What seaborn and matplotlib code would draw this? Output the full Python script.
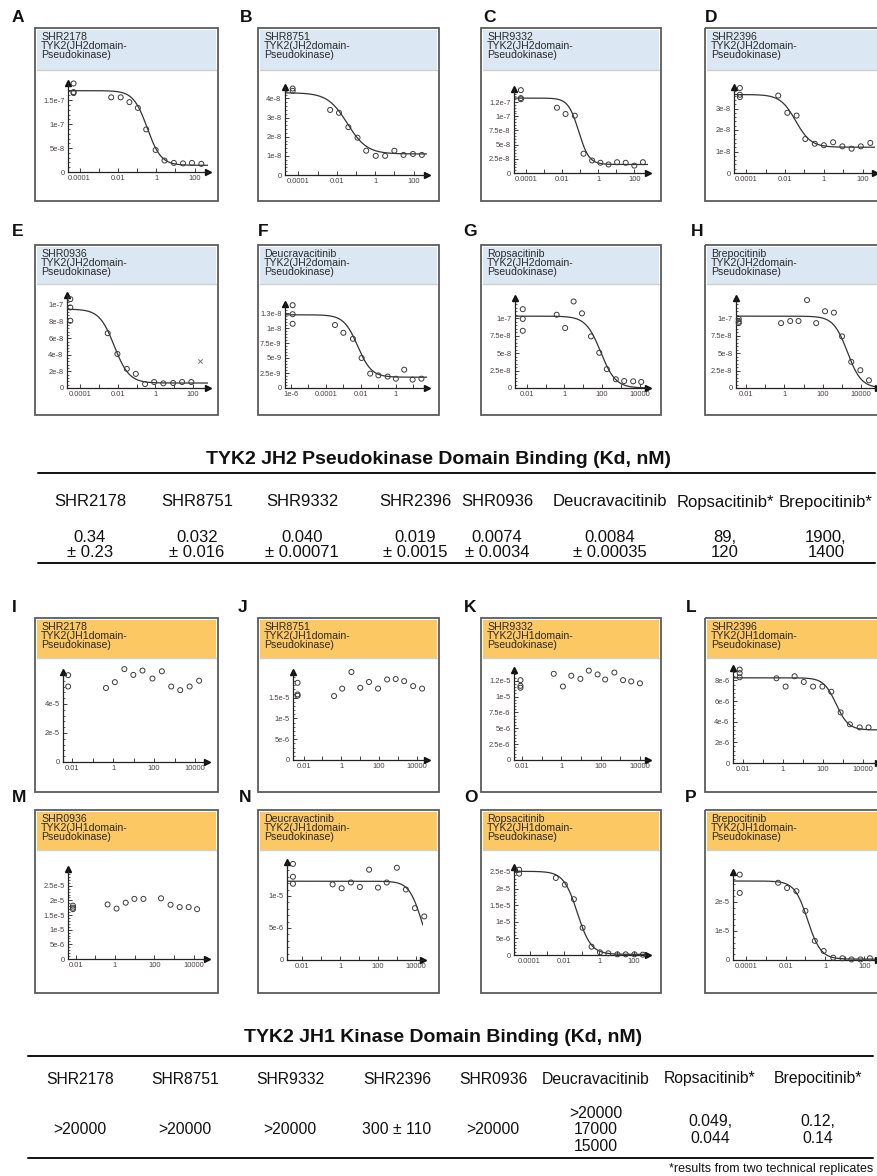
import numpy as np
import pandas as pd
import matplotlib
matplotlib.use("Agg")
import matplotlib.pyplot as plt
import seaborn as sns
from matplotlib.patches import Rectangle
from matplotlib.ticker import LogLocator, NullFormatter, AutoMinorLocator

sns.set_theme(style="white")
plt.rcParams['font.family'] = ['Liberation Sans', 'DejaVu Sans']

W, H = 878, 1176

# ---- data (concentration in uM, signal) ----
# control wells are plotted at the left edge of each axis
A_ctrl_x, A_ctrl = 4.9e-5, [1.85e-7, 1.67e-7, 1.65e-7]
A_conc = [0.0045, 0.014, 0.04, 0.11, 0.3, 0.93, 2.7, 8.3, 25, 73, 225]
A_resp = [1.56e-7, 1.56e-7, 1.46e-7, 1.34e-7, 8.9e-8, 4.6e-8, 2.4e-8, 1.9e-8, 1.8e-8, 1.9e-8, 1.7e-8]
A_fit = [1.7e-7, 1.4e-8, 0.34, 1.2]  # top, bottom, ec50, hill

B_ctrl_x, B_ctrl = 5e-5, [4.52e-8, 4.4e-8]
B_conc = [0.0045, 0.013, 0.04, 0.12, 0.34, 1.07, 3.3, 10, 30, 93, 270]
B_resp = [3.4e-8, 3.25e-8, 2.5e-8, 1.95e-8, 1.27e-8, 1.0e-8, 1.0e-8, 1.27e-8, 1.05e-8, 1.1e-8, 1.05e-8]
B_fit = [4.3e-8, 1.1e-8, 0.035, 0.85]

C_ctrl_x, C_ctrl = 4.9e-5, [1.46e-7, 1.32e-7, 1.3e-7]
C_conc = [0.005, 0.015, 0.049, 0.15, 0.45, 1.3, 3.7, 11, 33, 100, 300]
C_resp = [1.15e-7, 1.04e-7, 1.01e-7, 3.4e-8, 2.2e-8, 1.8e-8, 1.5e-8, 1.9e-8, 1.8e-8, 1.3e-8, 1.9e-8]
C_fit = [1.32e-7, 1.5e-8, 0.08, 1.5]

D_ctrl_x, D_ctrl = 4.6e-5, [3.95e-8, 3.64e-8, 3.53e-8]
D_conc = [0.0044, 0.013, 0.039, 0.11, 0.34, 1.0, 3.0, 9.0, 27, 81, 250]
D_resp = [3.6e-8, 2.8e-8, 2.67e-8, 1.58e-8, 1.36e-8, 1.29e-8, 1.43e-8, 1.24e-8, 1.13e-8, 1.24e-8, 1.4e-8]
D_fit = [3.65e-8, 1.2e-8, 0.035, 1.1]

E_ctrl_x, E_ctrl = 3e-5, [1.07e-7, 9.7e-8, 8.1e-8]
E_conc = [0.0029, 0.0095, 0.03, 0.09, 0.28, 0.85, 2.6, 8.7, 26, 80]
E_resp = [6.6e-8, 4.1e-8, 2.3e-8, 1.7e-8, 4.8e-9, 7.2e-9, 5.6e-9, 6e-9, 7.2e-9, 7.2e-9]
E_excl_x, E_excl_y = [224], [3.2e-8]
E_fit = [9.5e-8, 6e-9, 0.0065, 1.1]

F_ctrl_x, F_ctrl = 1.25e-6, [1.38e-8, 1.23e-8, 1.07e-8]
F_conc = [0.00033, 0.001, 0.0035, 0.011, 0.034, 0.1, 0.34, 1.0, 3.0, 9.1, 29]
F_resp = [1.05e-8, 9.2e-9, 8.2e-9, 5e-9, 2.4e-9, 2.1e-9, 1.9e-9, 1.55e-9, 3.05e-9, 1.4e-9, 1.55e-9]
F_fit = [1.22e-8, 1.8e-9, 0.0065, 1.1]

G_ctrl_x, G_ctrl = 0.0062, [1.13e-7, 9.9e-8, 8.2e-8]
G_conc = [0.39, 1.1, 3.1, 8.6, 26, 71, 180, 540, 1500, 4500, 12000]
G_resp = [1.05e-7, 8.6e-8, 1.24e-7, 1.07e-7, 7.4e-8, 5.05e-8, 2.7e-8, 1.25e-8, 1.0e-8, 9.6e-9, 8.7e-9]
G_fit = [1.03e-7, 0.0, 85, 1.1]

H_ctrl_x, H_ctrl = 0.0042, [9.9e-8, 9.5e-8, 9.3e-8]
H_conc = [0.67, 2.0, 5.4, 15, 45, 130, 375, 1000, 3000, 8900, 25000]
H_resp = [9.3e-8, 9.6e-8, 9.6e-8, 1.26e-7, 9.3e-8, 1.1e-7, 1.08e-7, 7.4e-8, 3.75e-8, 2.55e-8, 1.1e-8]
H_fit = [1.03e-7, 0.0, 1900, 1.2]

I_ctrl_x, I_ctrl = 0.0062, [5.98e-5, 5.2e-5]
I_conc = [0.44, 1.2, 3.5, 9.6, 27, 83, 240, 690, 1900, 5500, 16000]
I_resp = [5.1e-5, 5.5e-5, 6.4e-5, 6.0e-5, 6.3e-5, 5.75e-5, 6.25e-5, 5.2e-5, 4.95e-5, 5.2e-5, 5.6e-5]

J_ctrl_x, J_ctrl = 0.0048, [1.86e-5, 1.58e-5, 1.55e-5]
J_conc = [0.41, 1.1, 3.4, 10, 29, 87, 263, 750, 2100, 6300, 18600]
J_resp = [1.54e-5, 1.72e-5, 2.12e-5, 1.74e-5, 1.88e-5, 1.72e-5, 1.94e-5, 1.95e-5, 1.9e-5, 1.78e-5, 1.72e-5]

K_ctrl_x, K_ctrl = 0.0083, [1.26e-5, 1.17e-5, 1.14e-5]
K_conc = [0.41, 1.2, 3.2, 9.3, 25, 70, 170, 500, 1380, 3600, 10000]
K_resp = [1.36e-5, 1.16e-5, 1.33e-5, 1.28e-5, 1.41e-5, 1.35e-5, 1.27e-5, 1.38e-5, 1.26e-5, 1.24e-5, 1.21e-5]

L_ctrl_x, L_ctrl = 0.0068, [9.05e-6, 8.7e-6, 8.3e-6]
L_conc = [0.47, 1.35, 3.8, 11, 32, 93, 260, 760, 2200, 6800, 19000]
L_resp = [8.2e-6, 7.4e-6, 8.4e-6, 7.85e-6, 7.4e-6, 7.4e-6, 6.9e-6, 4.9e-6, 3.75e-6, 3.45e-6, 3.45e-6]
L_fit = [8.25e-6, 3.2e-6, 450, 1.4]

M_ctrl_x, M_ctrl = 0.0073, [1.82e-5, 1.75e-5, 1.7e-5]
M_conc = [0.42, 1.2, 3.5, 9.7, 28, 220, 670, 1950, 5600, 15000]
M_resp = [1.86e-5, 1.72e-5, 1.92e-5, 2.05e-5, 2.05e-5, 2.07e-5, 1.85e-5, 1.77e-5, 1.77e-5, 1.7e-5]

N_ctrl_x, N_ctrl = 0.0032, [1.5e-5, 1.3e-5, 1.19e-5]
N_conc = [0.4, 1.2, 3.7, 11, 34, 100, 290, 1000, 3000, 9000, 28000]
N_resp = [1.18e-5, 1.12e-5, 1.21e-5, 1.14e-5, 1.41e-5, 1.13e-5, 1.21e-5, 1.44e-5, 1.1e-5, 8.1e-6, 6.8e-6]
N_fit = [1.23e-5, 0.0, 20000, 1.3]

O_ctrl_x, O_ctrl = 2.5e-5, [2.57e-5, 2.45e-5]
O_conc = [0.0032, 0.0105, 0.035, 0.11, 0.36, 1.1, 3.3, 11, 33, 105, 316]
O_resp = [2.32e-5, 2.12e-5, 1.68e-5, 8.2e-6, 2.5e-6, 8e-7, 5e-7, 2e-7, 2e-7, 2e-7, 1e-7]
O_fit = [2.52e-5, 2e-7, 0.055, 1.1]

P_ctrl_x, P_ctrl = 4.6e-5, [2.94e-5, 2.31e-5]
P_conc = [0.0041, 0.0117, 0.035, 0.1, 0.3, 0.85, 2.6, 7.6, 22, 63, 190]
P_resp = [2.66e-5, 2.48e-5, 2.37e-5, 1.69e-5, 6.6e-6, 3.1e-6, 8e-7, 6e-7, 2e-7, 2e-7, 6e-7]
P_fit = [2.72e-5, 3e-7, 0.13, 1.3]

# compound names in the panel headers
jh2_names = ["SHR2178", "SHR8751", "SHR9332", "SHR2396",
             "SHR0936", "Deucravacitinib", "Ropsacitinib", "Brepocitinib"]
jh1_names = ["SHR2178", "SHR8751", "SHR9332", "SHR2396",
             "SHR0936", "Deucravactinib", "Ropsacitinib", "Brepocitinib"]

# tables
tbl_compounds = ["SHR2178", "SHR8751", "SHR9332", "SHR2396", "SHR0936",
                 "Deucravacitinib", "Ropsacitinib*", "Brepocitinib*"]
jh2_kd = ["0.34\n\u00b1 0.23", "0.032\n\u00b1 0.016", "0.040\n\u00b1 0.00071", "0.019\n\u00b1 0.0015",
          "0.0074\n\u00b1 0.0034", "0.0084\n\u00b1 0.00035", "89,\n120", "1900,\n1400"]
jh1_kd = [">20000", ">20000", ">20000", "300 \u00b1 110", ">20000",
          ">20000\n17000\n15000", "0.049,\n0.044", "0.12,\n0.14"]

# tick labels
ticks_x_a = ["0.0001", "0.01", "1", "100"]
ticks_x_f = ["1e-6", "0.0001", "0.01", "1"]
ticks_x_g = ["0.01", "1", "100", "10000"]

# ---------------- layout ----------------
fig = plt.figure(figsize=(W / 100, H / 100), dpi=100)
bg = fig.add_axes([0, 0, 1, 1])
bg.set_xlim(0, W)
bg.set_ylim(H, 0)
bg.axis('off')

BLUE = '#dbe8f3'
ORANGE = '#fbc864'

cols = [(35, 218), (258, 439), (481, 661), (705, 892)]
rows = [(28, 201, 70), (245, 415, 284), (618, 792, 658), (810, 993, 850)]


def px_axes(l, r, t, b):
    return fig.add_axes([l / W, 1 - b / H, (r - l) / W, (b - t) / H])


def draw_panel(letter, lxy, col, row, name, domain, color, inner, xlog, ytop,
               yticks, ylabels, xlabels, ctrl_x, ctrl, conc, resp, fit=None, excl=None):
    x0, x1 = cols[col]
    y0, y1, hb = rows[row]
    bg.add_patch(Rectangle((x0, y0), x1 - x0, y1 - y0, fill=False, ec='#5c5c5c', lw=1.3, zorder=3))
    bg.add_patch(Rectangle((x0 + 2, y0 + 2), x1 - x0 - 4, hb - y0 - 2, fc=color, ec='none'))
    bg.plot([x0 + 2, x1 - 2], [hb, hb], color='#cfcfcf', lw=1.0)
    bg.text(x0 + 6, y0 + 4, f"{name}\nTYK2({domain}domain-\nPseudokinase)", ha='left', va='top',
            fontsize=7.6, linespacing=0.88, color='#2a2a2a')
    bg.text(lxy[0], lxy[1], letter, ha='left', va='center', fontsize=12.5, fontweight='bold', color='#111')

    ax = px_axes(*inner)
    ax.patch.set_alpha(0)
    df = pd.DataFrame({'conc': [ctrl_x] * len(ctrl) + list(conc),
                       'resp': list(ctrl) + list(resp)})
    ax.set_xscale('log')
    sns.scatterplot(data=df, x='conc', y='resp', ax=ax, marker='o', s=13,
                    facecolors='none', edgecolor='#3a3a3a', linewidth=0.7,
                    clip_on=False, legend=False, zorder=4)
    if excl is not None:
        ax.scatter(excl[0], excl[1], marker='x', s=10, color='#777', linewidth=0.7)
    if fit is not None:
        top, bot, ec50, hill = fit
        xs = np.logspace(xlog[0], xlog[1], 300)
        ys = bot + (top - bot) / (1 + (xs / ec50) ** hill)
        sns.lineplot(x=xs, y=ys, ax=ax, color='#333', lw=0.9, estimator=None, sort=False)

    ax.set_xlim(10 ** xlog[0], 10 ** xlog[1])
    ax.set_ylim(0, ytop)
    for s in ['top', 'right']:
        ax.spines[s].set_visible(False)
    for s in ['left', 'bottom']:
        ax.spines[s].set_color('#222')
        ax.spines[s].set_linewidth(0.9)
    ax.plot(0, 1, marker='^', ms=4.5, color='#111', transform=ax.transAxes, clip_on=False)
    ax.plot(1, 0, marker='>', ms=4.5, color='#111', transform=ax.transAxes, clip_on=False)

    # decades get ticks, only every other decade is labelled
    dec = [10.0 ** k for k in range(int(np.ceil(xlog[0])), int(np.floor(xlog[1])) + 1)]
    labvals = {round(np.log10(float(v))): v for v in xlabels}
    ax.set_xticks(dec)
    ax.set_xticklabels([labvals.get(round(np.log10(d)), '') for d in dec])
    ax.xaxis.set_minor_locator(LogLocator(base=10, subs=np.arange(2, 10)))
    ax.xaxis.set_minor_formatter(NullFormatter())
    ax.set_yticks(yticks)
    ax.set_yticklabels(ylabels)
    ax.yaxis.set_minor_locator(AutoMinorLocator(5))
    ax.tick_params(axis='both', which='major', direction='in', length=3, width=0.6, color='#222',
                   labelsize=5.4, labelcolor='#4a4040', pad=2.5, bottom=True, left=True)
    ax.tick_params(axis='both', which='minor', direction='in', length=1.5, width=0.5, color='#222',
                   bottom=True, left=True)
    ax.set_xlabel('')
    ax.set_ylabel('')
    ax.grid(False)
    return ax


JH2, JH1 = 'JH2', 'JH1'

draw_panel('A', (12, 17), 0, 0, jh2_names[0], JH2, BLUE, (68, 208, 83, 172), (-4.6, 2.7), 1.86e-7,
           [0, 5e-8, 1e-7, 1.5e-7], ['0', '5e-8', '1e-7', '1.5e-7'], ticks_x_a,
           A_ctrl_x, A_ctrl, A_conc, A_resp, A_fit)
draw_panel('B', (240, 17), 1, 0, jh2_names[1], JH2, BLUE, (285, 427, 87, 175), (-4.7, 2.7), 4.6e-8,
           [0, 1e-8, 2e-8, 3e-8, 4e-8], ['0', '1e-8', '2e-8', '3e-8', '4e-8'], ticks_x_a,
           B_ctrl_x, B_ctrl, B_conc, B_resp, B_fit)
draw_panel('C', (483, 17), 2, 0, jh2_names[2], JH2, BLUE, (514, 648, 89, 173), (-4.69, 2.76), 1.48e-7,
           [0, 2.5e-8, 5e-8, 7.5e-8, 1e-7, 1.25e-7], ['0', '2.5e-8', '5e-8', '7.5e-8', '1e-7', '1.2e-7'], ticks_x_a,
           C_ctrl_x, C_ctrl, C_conc, C_resp, C_fit)
draw_panel('D', (705, 17), 3, 0, jh2_names[3], JH2, BLUE, (734, 875, 87, 173), (-4.64, 2.64), 4.0e-8,
           [0, 1e-8, 2e-8, 3e-8], ['0', '1e-8', '2e-8', '3e-8'], ticks_x_a,
           D_ctrl_x, D_ctrl, D_conc, D_resp, D_fit)

draw_panel('E', (12, 231), 0, 1, jh2_names[4], JH2, BLUE, (67, 208, 295, 388), (-4.7, 2.79), 1.12e-7,
           [0, 2e-8, 4e-8, 6e-8, 8e-8, 1e-7], ['0', '2e-8', '4e-8', '6e-8', '8e-8', '1e-7'], ticks_x_a,
           E_ctrl_x, E_ctrl, E_conc, E_resp, E_fit, excl=(E_excl_x, E_excl_y))
draw_panel('F', (258, 231), 1, 1, jh2_names[5], JH2, BLUE, (285, 427, 304, 388), (-6.34, 1.78), 1.4e-8,
           [0, 2.5e-9, 5e-9, 7.5e-9, 1e-8, 1.25e-8], ['0', '2.5e-9', '5e-9', '7.5e-9', '1e-8', '1.3e-8'], ticks_x_f,
           F_ctrl_x, F_ctrl, F_conc, F_resp, F_fit)
draw_panel('G', (463, 231), 2, 1, jh2_names[6], JH2, BLUE, (515, 648, 298, 388), (-2.62, 4.44), 1.29e-7,
           [0, 2.5e-8, 5e-8, 7.5e-8, 1e-7], ['0', '2.5e-8', '5e-8', '7.5e-8', '1e-7'], ticks_x_g,
           G_ctrl_x, G_ctrl, G_conc, G_resp, G_fit)
draw_panel('H', (691, 231), 3, 1, jh2_names[7], JH2, BLUE, (736, 878, 298, 388), (-2.52, 4.87), 1.29e-7,
           [0, 2.5e-8, 5e-8, 7.5e-8, 1e-7], ['0', '2.5e-8', '5e-8', '7.5e-8', '1e-7'], ticks_x_g,
           H_ctrl_x, H_ctrl, H_conc, H_resp, H_fit)

draw_panel('I', (12, 607), 0, 2, jh1_names[0], JH1, ORANGE, (63, 207, 672, 762), (-2.46, 4.59), 6.2e-5,
           [0, 2e-5, 4e-5], ['0', '2e-5', '4e-5'], ticks_x_g,
           I_ctrl_x, I_ctrl, I_conc, I_resp)
draw_panel('J', (238, 607), 1, 2, jh1_names[1], JH1, ORANGE, (293, 427, 672, 760), (-2.56, 4.53), 2.12e-5,
           [0, 5e-6, 1e-5, 1.5e-5], ['0', '5e-6', '1e-5', '1.5e-5'], ticks_x_g,
           J_ctrl_x, J_ctrl, J_conc, J_resp)
draw_panel('K', (464, 607), 2, 2, jh1_names[2], JH1, ORANGE, (514, 648, 670, 760), (-2.41, 4.41), 1.42e-5,
           [0, 2.5e-6, 5e-6, 7.5e-6, 1e-5, 1.25e-5], ['0', '2.5e-6', '5e-6', '7.5e-6', '1e-5', '1.2e-5'], ticks_x_g,
           K_ctrl_x, K_ctrl, K_conc, K_resp)
draw_panel('L', (686, 607), 3, 2, jh1_names[3], JH1, ORANGE, (733, 878, 668, 763), (-2.5, 4.75), 9.2e-6,
           [0, 2e-6, 4e-6, 6e-6, 8e-6], ['0', '2e-6', '4e-6', '6e-6', '8e-6'], ticks_x_g,
           L_ctrl_x, L_ctrl, L_conc, L_resp, L_fit)

draw_panel('M', (12, 798), 0, 3, jh1_names[4], JH1, ORANGE, (68, 207, 869, 959), (-2.39, 4.68), 3.07e-5,
           [0, 5e-6, 1e-5, 1.5e-5, 2e-5, 2.5e-5], ['0', '5e-6', '1e-5', '1.5e-5', '2e-5', '2.5e-5'], ticks_x_g,
           M_ctrl_x, M_ctrl, M_conc, M_resp)
draw_panel('N', (239, 798), 1, 3, jh1_names[5], JH1, ORANGE, (287, 423, 862, 960), (-2.81, 4.38), 1.53e-5,
           [0, 5e-6, 1e-5], ['0', '5e-6', '1e-5'], ticks_x_g,
           N_ctrl_x, N_ctrl, N_conc, N_resp, N_fit)
draw_panel('O', (464, 798), 2, 3, jh1_names[6], JH1, ORANGE, (514, 648, 867, 955), (-4.9, 2.8), 2.65e-5,
           [0, 5e-6, 1e-5, 1.5e-5, 2e-5, 2.5e-5], ['0', '5e-6', '1e-5', '1.5e-5', '2e-5', '2.5e-5'], ticks_x_a,
           O_ctrl_x, O_ctrl, O_conc, O_resp, O_fit)
draw_panel('P', (685, 798), 3, 3, jh1_names[7], JH1, ORANGE, (733, 878, 872, 960), (-4.68, 2.69), 3.03e-5,
           [0, 1e-5, 2e-5], ['0', '1e-5', '2e-5'], ticks_x_a,
           P_ctrl_x, P_ctrl, P_conc, P_resp, P_fit)

# ---------------- tables ----------------
t1_cols = [90, 197, 302, 415, 497, 610, 725, 826]
bg.text(439, 459, "TYK2 JH2 Pseudokinase Domain Binding (Kd, nM)", ha='center', va='center',
        fontsize=14, fontweight='bold', color='#111')
bg.plot([38, 875], [473, 473], color='#111', lw=1.4)
bg.plot([38, 875], [563, 563], color='#111', lw=1.4)
for cx, comp, val in zip(t1_cols, tbl_compounds, jh2_kd):
    bg.text(cx, 502, comp, ha='center', va='center', fontsize=12, color='#111')
    bg.text(cx, 545, val, ha='center', va='center', fontsize=12, color='#111', linespacing=1.0)

t2_cols = [80, 185, 290, 397, 493, 596, 710, 818]
bg.text(443, 1037, "TYK2 JH1 Kinase Domain Binding (Kd, nM)", ha='center', va='center',
        fontsize=14, fontweight='bold', color='#111')
bg.plot([28, 873], [1056, 1056], color='#111', lw=1.4)
bg.plot([28, 873], [1158, 1158], color='#111', lw=1.4)
for cx, comp, val in zip(t2_cols, tbl_compounds, jh1_kd):
    bg.text(cx, 1079, comp, ha='center', va='center', fontsize=11.3, color='#111')
    bg.text(cx, 1130, val, ha='center', va='center', fontsize=11.3, color='#111', linespacing=1.15)
bg.text(873, 1169, "*results from two technical replicates", ha='right', va='center',
        fontsize=9, color='#111')

fig.savefig("out.png", dpi=100)
